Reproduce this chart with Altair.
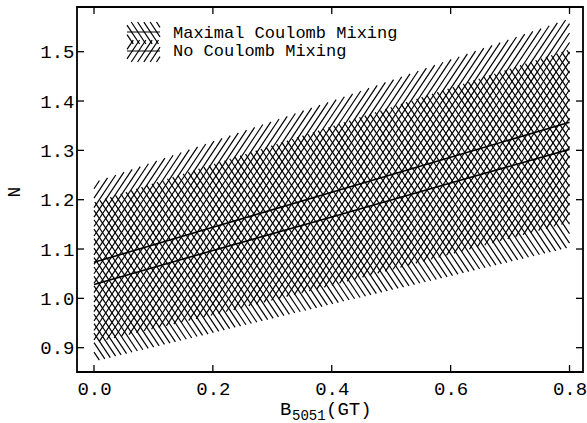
import altair as alt
import numpy as np
import pandas as pd

# ---------------- data ----------------
x_pts = [0.0, 0.2, 0.4, 0.6, 0.8]
no_lower = [0.910, 0.966, 1.026, 1.089, 1.154]
no_upper = [1.235, 1.318, 1.400, 1.484, 1.567]
max_lower = [0.872, 0.930, 0.988, 1.045, 1.103]
max_upper = [1.195, 1.272, 1.349, 1.427, 1.505]
no_center = [1.073, 1.144, 1.215, 1.286, 1.357]
max_center = [1.028, 1.097, 1.165, 1.234, 1.302]

x_ticks = [0.0, 0.2, 0.4, 0.6, 0.8]
y_ticks = [0.9, 1.0, 1.1, 1.2, 1.3, 1.4, 1.5]
legend_labels = ["Maximal Coulomb Mixing", "No Coulomb Mixing"]
x_title_parts = ["B", "5051", "(GT)"]
y_title = "N"

# ---------------- layout ----------------
W, H = 506, 365
XD = [-0.0286, 0.8227]
YD = [0.8507, 1.5906]
sx = W / (XD[1] - XD[0])
sy = H / (YD[1] - YD[0])
FONT = "Liberation Mono"


def px_to_data(px, py):
    return XD[0] + px / sx, YD[0] + (H - py) / sy


def hatch_data(lower, upper, direction, spacing_px=6.3, slope_px=1.5):
    """Parallel hatch segments clipped to the band between lower and upper."""
    xg = np.linspace(0.0, 0.8, 4001)
    L = np.interp(xg, x_pts, lower)
    U = np.interp(xg, x_pts, upper)
    m = direction * slope_px * sx / sy
    yref = YD[0]
    dc = spacing_px / sx
    cs = [x - (y - yref) / m for x in (0.0, 0.8) for y in (min(L), max(U))]
    rows = []
    for c in np.arange(min(cs) - dc, max(cs) + dc, dc):
        yl = yref + m * (xg - c)
        idx = np.nonzero((yl >= L) & (yl <= U))[0]
        if len(idx) >= 2:
            i0, i1 = idx[0], idx[-1]
            rows.append(dict(x=xg[i0], y=yl[i0], x2=xg[i1], y2=yl[i1]))
    return pd.DataFrame(rows)


def swatch_data(bx0, bx1, by0, by1, direction, spacing_px=6.3, slope_px=1.5):
    """Hatch for a legend swatch, built in pixels then turned into data units."""
    rows = []
    s = direction * slope_px  # pixel slope (y downwards)
    xg = np.linspace(bx0, bx1, 801)
    cs = [x - (y - by0) / s for x in (bx0, bx1) for y in (by0, by1)]
    for c in np.arange(min(cs), max(cs) + spacing_px, spacing_px):
        yl = by0 + s * (xg - c)
        idx = np.nonzero((yl >= by0) & (yl <= by1))[0]
        if len(idx) >= 2:
            i0, i1 = idx[0], idx[-1]
            xa, ya = px_to_data(xg[i0], yl[i0])
            xb, yb = px_to_data(xg[i1], yl[i1])
            rows.append(dict(x=xa, y=ya, x2=xb, y2=yb))
    return rows


xs = alt.Scale(domain=XD, nice=False, zero=False)
ys = alt.Scale(domain=YD, nice=False, zero=False)

x_axis = alt.Axis(values=x_ticks, format=".1f", ticks=False, tickSize=0, domain=False,
                  grid=False, labelFont=FONT, labelFontSize=19, labelColor="black",
                  labelPadding=7, title=None)
y_axis = alt.Axis(values=y_ticks, format=".1f", ticks=False, tickSize=0, domain=False,
                  grid=False, labelFont=FONT, labelFontSize=19, labelColor="black",
                  labelPadding=3, title=None)


def X(field):
    return alt.X(field, scale=xs, axis=x_axis)


def Y(field):
    return alt.Y(field, scale=ys, axis=y_axis)


hatch_no = hatch_data(no_lower, no_upper, +1)
hatch_max = hatch_data(max_lower, max_upper, -1)


def seg_layer(df, sw=1.2):
    return alt.Chart(df).mark_rule(color="black", strokeWidth=sw).encode(
        x=X("x:Q"), y=Y("y:Q"), x2="x2:Q", y2="y2:Q")


layer_no = seg_layer(hatch_no)
layer_max = seg_layer(hatch_max)

# center lines
lines_df = pd.DataFrame(
    [dict(x=x, y=v, s="no") for x, v in zip(x_pts, no_center)]
    + [dict(x=x, y=v, s="max") for x, v in zip(x_pts, max_center)]
)
lines = alt.Chart(lines_df).mark_line(color="black", strokeWidth=1.6).encode(
    x=X("x:Q"), y=Y("y:Q"), detail="s:N")

# inward ticks on all four sides
TL = 7
xt = pd.DataFrame({"v": x_ticks})
yt = pd.DataFrame({"v": y_ticks})
tick_b = alt.Chart(xt).mark_rule(color="black", strokeWidth=1.3).encode(
    x=X("v:Q"), y=alt.value(H), y2=alt.value(H - TL))
tick_t = alt.Chart(xt).mark_rule(color="black", strokeWidth=1.3).encode(
    x=X("v:Q"), y=alt.value(0), y2=alt.value(TL))
tick_l = alt.Chart(yt).mark_rule(color="black", strokeWidth=1.3).encode(
    y=Y("v:Q"), x=alt.value(0), x2=alt.value(TL))
tick_r = alt.Chart(yt).mark_rule(color="black", strokeWidth=1.3).encode(
    y=Y("v:Q"), x=alt.value(W), x2=alt.value(W - TL))

# frame around the plot area
frame = alt.Chart(pd.DataFrame({"k": [0]})).mark_rect(
    fill=None, stroke="black", strokeWidth=1.8
).encode(x=alt.value(0), x2=alt.value(W), y=alt.value(0), y2=alt.value(H))

# legend swatches
sw_rows = swatch_data(50, 83, 15, 37, +1) + swatch_data(50, 83, 33, 55, -1)
for py in (25, 44):
    xa, ya = px_to_data(50, py)
    xb, yb = px_to_data(83, py)
    sw_rows.append(dict(x=xa, y=ya, x2=xb, y2=yb))
legend_sw = seg_layer(pd.DataFrame(sw_rows), sw=1.2)

legend_txt = alt.layer(*[
    alt.Chart(pd.DataFrame({"t": [lab]})).mark_text(
        font=FONT, fontSize=17, align="left", baseline="alphabetic", color="black"
    ).encode(text="t:N", x=alt.value(96), y=alt.value(yy))
    for lab, yy in zip(legend_labels, (31, 49))
])

# x title with subscript
xt_specs = [(x_title_parts[0], 203, 408, 19), (x_title_parts[1], 215, 413, 14),
            (x_title_parts[2], 249, 408, 19)]
x_title = alt.layer(*[
    alt.Chart(pd.DataFrame({"t": [t]})).mark_text(
        font=FONT, fontSize=fs, align="left", baseline="alphabetic", color="black"
    ).encode(text="t:N", x=alt.value(xx), y=alt.value(yy))
    for t, xx, yy, fs in xt_specs
])

y_title_mark = alt.Chart(pd.DataFrame({"t": [y_title]})).mark_text(
    font=FONT, fontSize=18, angle=270, align="center", baseline="middle", color="black"
).encode(text="t:N", x=alt.value(-62), y=alt.value(185))

chart = alt.layer(
    layer_no, layer_max, lines, tick_b, tick_t, tick_l, tick_r, frame,
    legend_sw, legend_txt, x_title, y_title_mark
).properties(
    width=W, height=H,
    autosize=alt.AutoSizeParams(type="none"),
    padding={"left": 77, "top": 7, "right": 4, "bottom": 51},
).configure_view(
    strokeWidth=0
).configure(background="white")

chart.save("out.html", embed_options={"renderer": "svg", "actions": False})
